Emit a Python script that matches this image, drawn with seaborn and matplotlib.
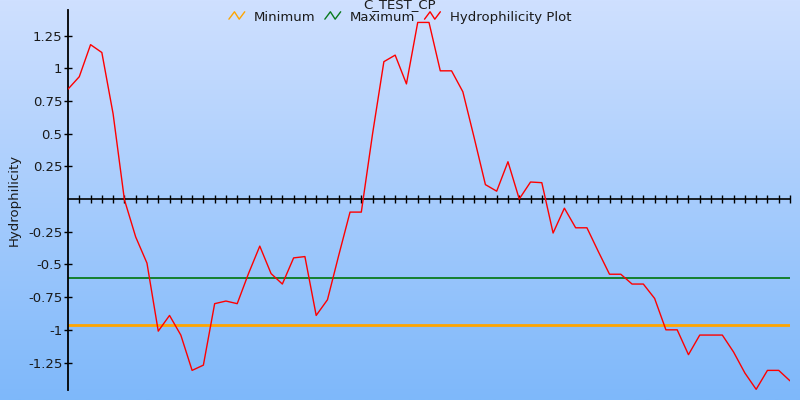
import numpy as np
import matplotlib
matplotlib.use("Agg")
import matplotlib.pyplot as plt
import seaborn as sns
from matplotlib.lines import Line2D
from matplotlib.legend_handler import HandlerBase

# hydrophilicity profile, one value per window position
positions = list(range(65))
hydro = [0.84, 0.935, 1.18, 1.12, 0.65, -0.005, -0.29, -0.49, -1.01, -0.89,
         -1.04, -1.31, -1.27, -0.80, -0.78, -0.80, -0.57, -0.36, -0.57, -0.65,
         -0.45, -0.44, -0.89, -0.77, -0.43, -0.10, -0.10, 0.50, 1.05, 1.10,
         0.88, 1.35, 1.35, 0.98, 0.98, 0.82, 0.47, 0.11, 0.06, 0.285,
         0.0, 0.13, 0.125, -0.26, -0.07, -0.22, -0.22, -0.40, -0.575, -0.575,
         -0.65, -0.65, -0.76, -1.00, -1.00, -1.19, -1.04, -1.04, -1.04, -1.17,
         -1.33, -1.455, -1.31, -1.31, -1.39]
minimum = -0.96
maximum = -0.60
ytick_vals = [-1.25, -1, -0.75, -0.5, -0.25, 0.25, 0.5, 0.75, 1, 1.25]


class ZigZag(HandlerBase):
    # little zigzag icon like the original legend
    def create_artists(self, legend, orig_handle, xdescent, ydescent,
                       width, height, fontsize, trans):
        xs = np.array([0.0, 0.35, 0.65, 1.0]) * width - xdescent
        ys = np.array([0.15, 0.95, 0.15, 0.95]) * height - ydescent
        ln = Line2D(xs, ys, color=orig_handle.get_color(), lw=1)
        ln.set_transform(trans)
        return [ln]


sns.set_style("white")
plt.rcParams['font.family'] = ['DejaVu Sans']

fig = plt.figure(figsize=(8, 4), dpi=100)

# gradient background over the whole figure
bg = fig.add_axes([0, 0, 1, 1])
top = np.array([207, 224, 255]) / 255.0
bot = np.array([126, 184, 250]) / 255.0
t = np.linspace(0, 1, 256)[:, None]
grad = (top * (1 - t) + bot * t)[:, None, :]
bg.imshow(grad, aspect='auto', extent=[0, 1, 0, 1])
bg.axis('off')

ax = fig.add_axes([68 / 800, 10 / 400, 722 / 800, 380 / 400])
ax.patch.set_alpha(0)

ax.axhline(minimum, color='#ffa500', lw=2, zorder=2)
ax.axhline(maximum, color='#0a7a1e', lw=1.3, zorder=2)
sns.lineplot(x=positions, y=hydro, color='red', lw=1, ax=ax, zorder=3)

ax.set_xlim(0, 64)
ax.set_ylim(-1.46, 1.445)

for s in ['top', 'right']:
    ax.spines[s].set_visible(False)
ax.spines['bottom'].set_position(('data', 0))
ax.spines['bottom'].set_linewidth(1.2)
ax.spines['left'].set_linewidth(1.3)
ax.spines['bottom'].set_color('black')
ax.spines['left'].set_color('black')

ax.set_xticks(positions[1:])
ax.set_xticklabels([])
ax.tick_params(axis='x', bottom=True, direction='inout', length=6, width=1,
               colors='black')
ax.set_yticks(ytick_vals)
ax.set_yticklabels(['%g' % v for v in ytick_vals])
ax.tick_params(axis='y', left=True, direction='inout', length=6, width=1,
               labelsize=9.5, colors='black', labelcolor='#1a1a1a', pad=1)

ax.set_ylabel('Hydrophilicity', fontsize=9.5, color='#1a1a1a')
ax.yaxis.set_label_coords(-0.065, 0.5)

fig.text(0.5, 1 - 5 / 400, 'C_TEST_CP', ha='center', va='center',
         fontsize=9.5, color='#1a1a1a')

handles = [Line2D([], [], color='#ffa500'), Line2D([], [], color='#0a7a1e'),
           Line2D([], [], color='red')]
leg = fig.legend(handles, ['Minimum', 'Maximum', 'Hydrophilicity Plot'],
                 handler_map={Line2D: ZigZag()}, loc='upper center',
                 bbox_to_anchor=(0.5, 1.0), ncol=3, frameon=False,
                 fontsize=9.5, handlelength=1.2, columnspacing=0.7,
                 handletextpad=0.7, borderaxespad=0.4)
for txt in leg.get_texts():
    txt.set_color('#1a1a1a')

fig.savefig('out.png', dpi=100)
